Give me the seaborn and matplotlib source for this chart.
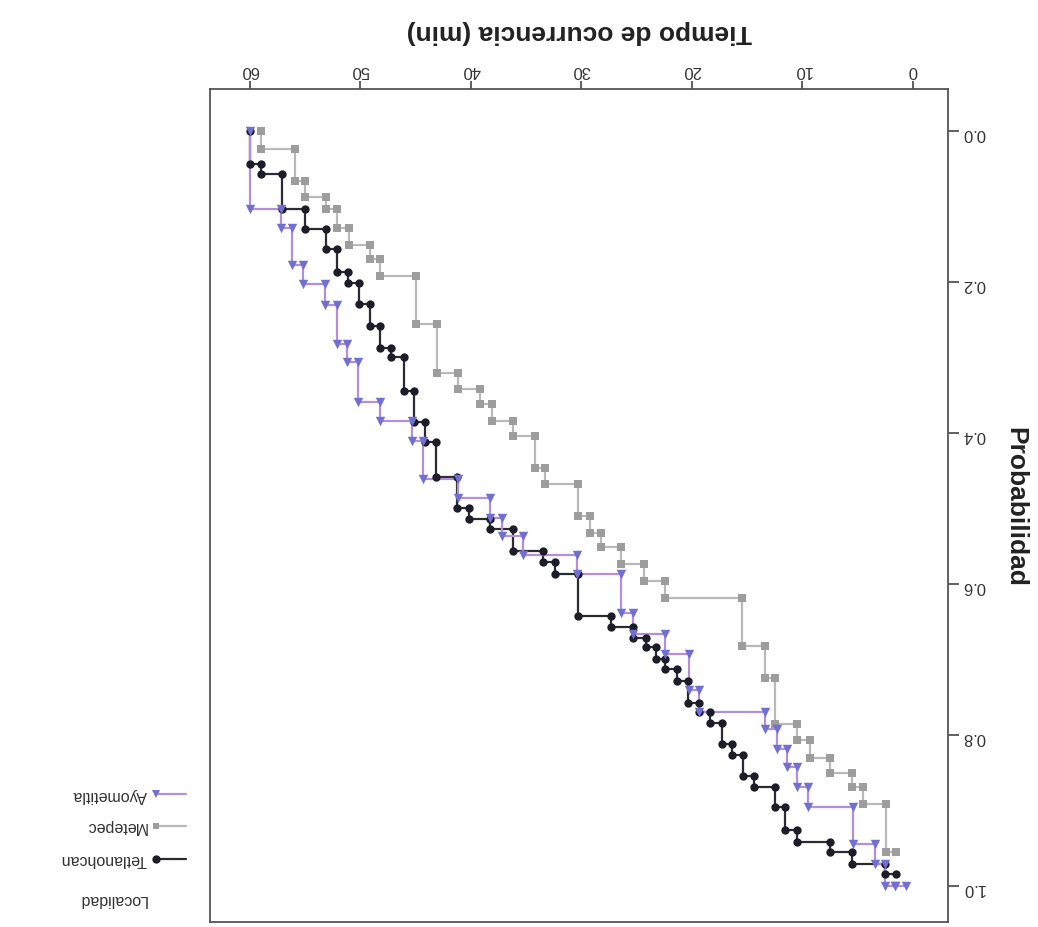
import matplotlib
matplotlib.use("Agg")
import matplotlib.pyplot as plt
from matplotlib.lines import Line2D
import pandas as pd
import seaborn as sns

# ---- data: corner points of each step curve (time in min, probability) ----
series_names = ["Tetlanohcan", "Metepec", "Ayometitla"]

tet_time = [60.0, 59.0, 57.1, 55.0, 53.1, 52.1, 51.1, 50.1, 49.1, 48.2, 47.2, 46.1,
            45.2, 44.2, 43.2, 41.3, 40.2, 38.3, 36.2, 33.5, 32.4, 30.3, 27.3, 25.3,
            24.2, 23.3, 22.4, 21.4, 20.4, 19.4, 18.4, 17.3, 16.4, 15.4, 14.4, 12.5,
            11.6, 10.5, 7.5, 5.5, 2.5, 1.5]
tet_prob = [0.000, 0.044, 0.057, 0.103, 0.130, 0.156, 0.187, 0.201, 0.229, 0.258, 0.287, 0.300,
            0.344, 0.386, 0.412, 0.458, 0.500, 0.514, 0.527, 0.556, 0.571, 0.587, 0.642, 0.657,
            0.671, 0.684, 0.699, 0.713, 0.728, 0.757, 0.770, 0.784, 0.812, 0.826, 0.854, 0.869,
            0.896, 0.926, 0.942, 0.955, 0.971, 0.984]

met_time = [59.0, 55.9, 55.0, 53.1, 52.1, 51.0, 49.1, 48.2, 45.0, 43.1, 41.2, 39.2,
            38.1, 36.2, 34.2, 33.3, 30.3, 29.2, 28.2, 26.4, 24.3, 22.4, 15.5, 13.4,
            12.5, 10.5, 9.3, 7.5, 5.5, 4.5, 2.4, 1.5]
met_prob = [0.000, 0.024, 0.066, 0.087, 0.103, 0.128, 0.151, 0.170, 0.192, 0.256, 0.320, 0.342,
            0.362, 0.384, 0.404, 0.446, 0.468, 0.510, 0.532, 0.551, 0.574, 0.596, 0.618, 0.682,
            0.724, 0.785, 0.806, 0.830, 0.850, 0.869, 0.891, 0.955]

ayo_time = [60.0, 57.2, 56.2, 55.2, 53.2, 52.1, 51.2, 50.2, 48.2, 45.3, 44.3, 41.2,
            38.3, 37.2, 35.3, 30.4, 26.4, 25.3, 22.4, 20.3, 19.4, 13.4, 12.3, 11.4,
            10.5, 9.5, 5.4, 3.4, 2.5, 1.6, 0.6]
ayo_prob = [0.000, 0.103, 0.128, 0.178, 0.203, 0.230, 0.282, 0.306, 0.359, 0.384, 0.410, 0.461,
            0.486, 0.512, 0.536, 0.562, 0.587, 0.639, 0.666, 0.693, 0.741, 0.770, 0.792, 0.818,
            0.843, 0.869, 0.896, 0.944, 0.971, 1.000, 1.000]

x_ticks = [0, 10, 20, 30, 40, 50, 60]
y_ticks = [0.0, 0.2, 0.4, 0.6, 0.8, 1.0]

# ---- styles ----
line_colors = {"Tetlanohcan": "#2b2b36", "Metepec": "#b9b9b9", "Ayometitla": "#b48fd8"}
marker_colors = {"Tetlanohcan": "#1d1d29", "Metepec": "#9d9d9d", "Ayometitla": "#7070d2"}
marker_shapes = {"Tetlanohcan": "o", "Metepec": "s", "Ayometitla": "v"}
marker_sizes = {"Tetlanohcan": 36, "Metepec": 26, "Ayometitla": 46}


def step_vertices(t, p):
    """Vertical drop first, then horizontal run: every corner of the staircase."""
    xs, ys = [t[0]], [p[0]]
    for k in range(1, len(t)):
        xs += [t[k - 1], t[k]]
        ys += [p[k], p[k]]
    return xs, ys


frames = []
for name, t, p in [("Metepec", met_time, met_prob),
                   ("Tetlanohcan", tet_time, tet_prob),
                   ("Ayometitla", ayo_time, ayo_prob)]:
    xs, ys = step_vertices(t, p)
    frames.append(pd.DataFrame({"tiempo": xs, "prob": ys, "Localidad": name,
                                "orden": range(len(xs))}))
df = pd.concat(frames, ignore_index=True)

sns.set_theme(style="white")
plt.rcParams["font.family"] = ["Liberation Sans", "DejaVu Sans"]

W, H = 1038, 928
fig = plt.figure(figsize=(W / 100, H / 100), dpi=100)
ax_l, ax_r, ax_t, ax_b = 210, 948, 90, 923
ax = fig.add_axes([ax_l / W, 1 - ax_b / H, (ax_r - ax_l) / W, (ax_b - ax_t) / H])

order = ["Metepec", "Tetlanohcan", "Ayometitla"]
for name in order:
    sub = df[df["Localidad"] == name]
    sns.lineplot(data=sub, x="tiempo", y="prob", sort=False, estimator=None,
                 color=line_colors[name], linewidth=1.6, ax=ax, legend=False, zorder=2)
for name in order:
    sub = df[df["Localidad"] == name]
    sns.scatterplot(data=sub, x="tiempo", y="prob", marker=marker_shapes[name],
                    color=marker_colors[name], s=marker_sizes[name], linewidth=0,
                    ax=ax, legend=False, zorder=3)

# axes turned half a turn: time runs right-to-left along the top, probability downward on the right
ax.set_xlim(63.62, -3.17)
ax.set_ylim(1.0477, -0.0556)
ax.set_xticks(x_ticks)
ax.set_xticklabels([str(v) for v in x_ticks])
ax.set_yticks(y_ticks)
ax.set_yticklabels([f"{v:.1f}" for v in y_ticks])
ax.xaxis.tick_top()
ax.yaxis.tick_right()
ax.tick_params(axis="x", which="both", direction="out", length=6, width=1.2,
               color="#444444", labelsize=12, labelcolor="#333333", pad=3,
               labelrotation=180, bottom=False, top=True)
ax.tick_params(axis="y", which="both", direction="out", length=8, width=1.2,
               color="#444444", labelsize=12, labelcolor="#333333", pad=2,
               labelrotation=180, left=False, right=True)
for s in ax.spines.values():
    s.set_visible(True)
    s.set_color("#555555")
    s.set_linewidth(1.3)
ax.grid(False)

ax.set_xlabel("Tiempo de ocurrencia (min)", fontsize=19, fontweight="bold",
              color="#222222", rotation=180)
ax.xaxis.set_label_position("top")
ax.xaxis.set_label_coords(0.5, (ax_b - 32) / (ax_b - ax_t))
ax.xaxis.label.set_va("center")
ax.set_ylabel("Probabilidad", fontsize=19, fontweight="bold", color="#222222", rotation=270)
ax.yaxis.set_label_position("right")
ax.yaxis.set_label_coords((1015 - ax_l) / (ax_r - ax_l), 0.5)
ax.yaxis.label.set_va("center")
ax.yaxis.label.set_ha("center")

# legend, drawn upside down below-left of the frame
def fx(x):
    return x / W


def fy(y):
    return 1 - y / H


legend_rows = {"Ayometitla": 795, "Metepec": 827, "Tetlanohcan": 860}
for name, yy in legend_rows.items():
    fig.add_artist(Line2D([fx(155), fx(186)], [fy(yy), fy(yy)], transform=fig.transFigure,
                          color=line_colors[name], linewidth=1.6))
    fig.add_artist(Line2D([fx(156)], [fy(yy)], transform=fig.transFigure, linestyle="none",
                          marker=marker_shapes[name], markersize=6 if name != "Metepec" else 4.5,
                          markerfacecolor=marker_colors[name], markeredgewidth=0))
    fig.text(fx(147), fy(yy), name, rotation=180, ha="right", va="center",
             fontsize=11.5, color="#333333")
fig.text(fx(147), fy(900), "Localidad", rotation=180, ha="right", va="center",
         fontsize=11.5, color="#333333")

fig.savefig("out.png", dpi=100, facecolor="white")
